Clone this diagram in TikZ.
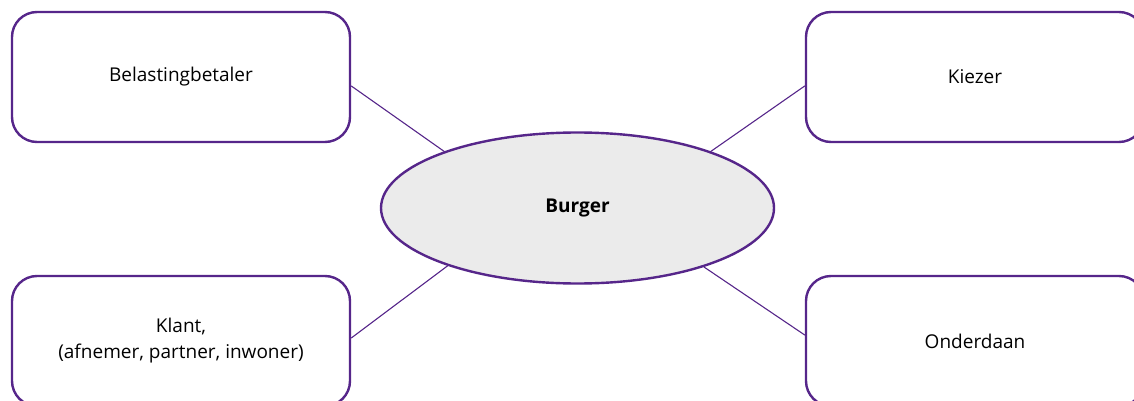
\documentclass[tikz,border=0pt]{standalone}
\usepackage{fontspec}
\setmainfont{Open Sans}
\usepackage{xcolor}
\usepackage{tikz}
\usetikzlibrary{shapes.geometric}
\usetikzlibrary{positioning}
\definecolor{rolpurple}{RGB}{86,38,138}
\definecolor{burgergray}{RGB}{235,235,235}
\tikzset{
	rolbox/.style={rectangle, rounded corners=12.5pt, draw=rolpurple, line width=1.2pt, fill=white, minimum width=169pt, minimum height=65pt, align=center, font=\fontsize{9.5}{13}\selectfont},
	burgernode/.style={ellipse, draw=rolpurple, line width=1.2pt, fill=burgergray, minimum width=196.5pt, minimum height=75.5pt, inner sep=0pt, font=\fontsize{9.5}{13}\selectfont\bfseries},
	verbind/.style={draw=rolpurple, line width=0.55pt}
}
\begin{document}
\begin{tikzpicture}[x=0.5pt, y=-0.5pt]
	\useasboundingbox (0,0) rectangle (1134,401);
	\node[burgernode] (burger) at (577.5,208){Burger};
	\node[rolbox] (belasting) at (181,77){Belastingbetaler};
	\node[rolbox] (kiezer)    at (975,77){Kiezer};
	\node[rolbox] (klant)     at (181,341){Klant,\\(afnemer, partner, inwoner)};
	\node[rolbox] (onderdaan) at (975,341){Onderdaan};
	\draw[verbind] (burger.157)   -- (belasting.-3.4);
	\draw[verbind] (burger.23)    -- (kiezer.183.4);
	\draw[verbind] (burger.204.8) -- (klant.1.7);
	\draw[verbind] (burger.335.5) -- (onderdaan.178);
\end{tikzpicture}
\end{document}
